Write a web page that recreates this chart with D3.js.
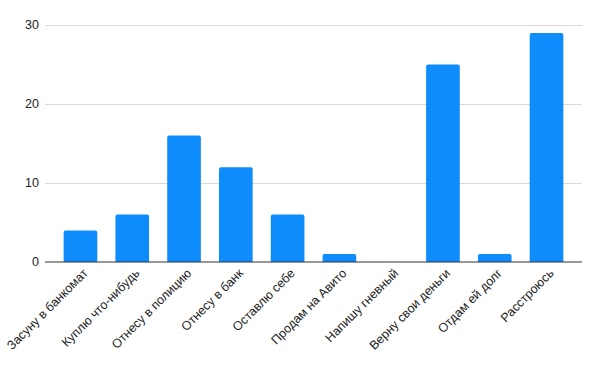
<!DOCTYPE html>
<html>
<head>
<meta charset="utf-8">
<script src="https://cdn.jsdelivr.net/npm/d3@7"></script>
<style>
  body { margin: 0; background: #fff; }
  svg { display: block; }
</style>
</head>
<body>
<script>
const categories = [
  "Засуну в банкомат",
  "Куплю что-нибудь",
  "Отнесу в полицию",
  "Отнесу в банк",
  "Оставлю себе",
  "Продам на Авито",
  "Напишу гневный",
  "Верну свои деньги",
  "Отдам ей долг",
  "Расстроюсь"
];
const values = [4, 6, 16, 12, 6, 1, 0, 25, 1, 29];
const yTicks = [0, 10, 20, 30];

const width = 600, height = 371;
const margin = { top: 25, right: 18, bottom: 109, left: 45 };

const svg = d3.select("body")
  .append("svg")
  .attr("width", width)
  .attr("height", height)
  .attr("font-family", "'Liberation Sans', Arial, sans-serif");

const x = d3.scaleBand()
  .domain(categories)
  .range([margin.left, width - margin.right])
  .paddingInner(0.35)
  .paddingOuter(0.36);

const y = d3.scaleLinear()
  .domain([0, 30])
  .range([height - margin.bottom, margin.top]);

// grid
svg.append("g")
  .selectAll("line")
  .data(yTicks.filter(d => d > 0))
  .join("line")
  .attr("x1", margin.left)
  .attr("x2", width - margin.right)
  .attr("y1", d => Math.round(y(d)) + 0.5)
  .attr("y2", d => Math.round(y(d)) + 0.5)
  .attr("stroke", "#d9d9d9")
  .attr("stroke-width", 1);

// y tick labels
svg.append("g")
  .selectAll("text")
  .data(yTicks)
  .join("text")
  .attr("x", margin.left - 6)
  .attr("y", d => y(d))
  .attr("dy", "0.35em")
  .attr("text-anchor", "end")
  .attr("font-size", 12.5)
  .attr("fill", "#222")
  .text(d => d);

// bars with rounded tops
const r = 2;
svg.append("g")
  .selectAll("path")
  .data(values.map((v, i) => ({ c: categories[i], v })))
  .join("path")
  .attr("fill", "#0e8cfb")
  .attr("d", d => {
    const x0 = x(d.c), x1 = x0 + x.bandwidth();
    const y0 = y(0), y1 = y(d.v);
    const h = y0 - y1;
    if (h <= 0) return "";
    const rr = Math.min(r, h);
    return `M${x0},${y0}V${y1 + rr}Q${x0},${y1} ${x0 + rr},${y1}H${x1 - rr}Q${x1},${y1} ${x1},${y1 + rr}V${y0}Z`;
  });

// baseline
svg.append("line")
  .attr("x1", margin.left)
  .attr("x2", width - margin.right)
  .attr("y1", y(0))
  .attr("y2", y(0))
  .attr("stroke", "#333")
  .attr("stroke-width", 1.2);

// x labels
svg.append("g")
  .selectAll("text")
  .data(categories)
  .join("text")
  .attr("transform", d => `translate(${x(d) + x.bandwidth() / 2 + 8},${y(0) + 12}) rotate(-45)`)
  .attr("text-anchor", "end")
  .attr("font-size", 12.5)
  .attr("fill", "#222")
  .text(d => d);
</script>
</body>
</html>
